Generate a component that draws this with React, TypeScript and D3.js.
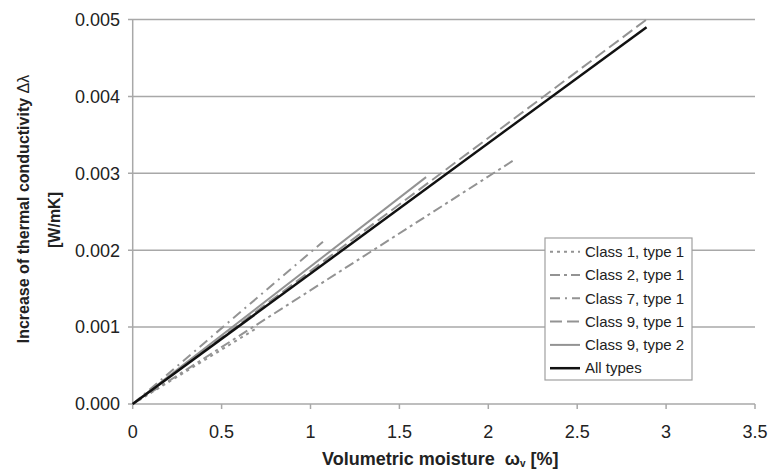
import React from "react";
import * as d3 from "d3";

const xTicks = [0, 0.5, 1, 1.5, 2, 2.5, 3, 3.5];
const yTicks = [0, 0.001, 0.002, 0.003, 0.004, 0.005];

const seriesNames = ["Class 1, type 1", "Class 2, type 1", "Class 7, type 1", "Class 9, type 1", "Class 9, type 2", "All types"];
const class1X = [0, 0.7];
const class1Y = [0, 0.00099];
const class2X = [0, 2.15];
const class2Y = [0, 0.00318];
const class7X = [0, 1.07];
const class7Y = [0, 0.00211];
const class9aX = [0, 2.89];
const class9aY = [0, 0.005];
const class9bX = [0, 1.65];
const class9bY = [0, 0.00295];
const allX = [0, 2.89];
const allY = [0, 0.0049];

const styles = [
  { color: "#939393", width: 2, dash: "3,4" },
  { color: "#939393", width: 2, dash: "10,4,3,4" },
  { color: "#939393", width: 2, dash: "10,5,2,5" },
  { color: "#939393", width: 2, dash: "12,5" },
  { color: "#939393", width: 2, dash: "" },
  { color: "#111111", width: 2.5, dash: "" },
];

export default function App() {
  const W = 773, H = 471;
  const x = d3.scaleLinear().domain([0, 3.5]).range([132.7, 755]);
  const y = d3.scaleLinear().domain([0, 0.005]).range([404, 19.5]);
  const line = d3.line<[number, number]>().x(d => x(d[0])).y(d => y(d[1]));
  const data = [
    [class1X, class1Y], [class2X, class2Y], [class7X, class7Y],
    [class9aX, class9aY], [class9bX, class9bY], [allX, allY],
  ].map(([xs, ys]) => xs.map((v, i) => [v, ys[i]] as [number, number]));
  const font = "'Liberation Sans', Arial, sans-serif";
  const grid = "#a8a8a8";
  const lg = { x0: 545, y0: 238, w: 147, h: 142, row0: 251.7, step: 23.3 };
  return (
    <svg width={W} height={H} style={{ position: "absolute", left: 0, top: 0, background: "#fff" }} fontFamily={font}>
      {yTicks.map(t => (
        <g key={t}>
          <line x1={128} x2={x(3.5)} y1={y(t)} y2={y(t)} stroke={grid} strokeWidth={1.5} />
          <text x={120} y={y(t)} dy="0.35em" textAnchor="end" fontSize={18} fill="#222">{d3.format(".3f")(t)}</text>
        </g>
      ))}
      <line x1={x(0)} x2={x(0)} y1={y(0.005)} y2={y(0)} stroke={grid} strokeWidth={1.5} />
      {xTicks.map(t => (
        <g key={t}>
          <line x1={x(t)} x2={x(t)} y1={y(0)} y2={y(0) + 5} stroke={grid} strokeWidth={1.5} />
          <text x={x(t)} y={438} textAnchor="middle" fontSize={18} fill="#222">{String(t)}</text>
        </g>
      ))}
      {data.map((d, i) => (
        <path key={i} d={line(d) || ""} fill="none" stroke={styles[i].color} strokeWidth={styles[i].width}
          strokeDasharray={styles[i].dash || undefined} />
      ))}
      <rect x={lg.x0} y={lg.y0} width={lg.w} height={lg.h} fill="#fff" stroke="#a0a0a0" strokeWidth={1.2} />
      {seriesNames.map((n, i) => (
        <g key={n}>
          <line x1={550} x2={580} y1={lg.row0 + i * lg.step} y2={lg.row0 + i * lg.step}
            stroke={styles[i].color} strokeWidth={styles[i].width} strokeDasharray={styles[i].dash || undefined} />
          <text x={585} y={lg.row0 + i * lg.step} dy="0.35em" fontSize={15} fill="#222">{n}</text>
        </g>
      ))}
      <text x={322} y={465} fontSize={18} fontWeight="bold" fill="#222">
        Volumetric moisture{"\u00a0\u00a0"}ω<tspan fontSize={10} dy={2}>v</tspan><tspan dy={-2}>{"\u00a0"}[%]</tspan>
      </text>
      <text transform="translate(29,209) rotate(-90)" textAnchor="middle" fontSize={16} fontWeight="bold" fill="#222">
        Increase of thermal conductivity <tspan fontWeight="normal">Δλ</tspan>
      </text>
      <text transform="translate(60,220) rotate(-90)" textAnchor="middle" fontSize={16} fontWeight="bold" fill="#222">
        [W/mK]
      </text>
    </svg>
  );
}
